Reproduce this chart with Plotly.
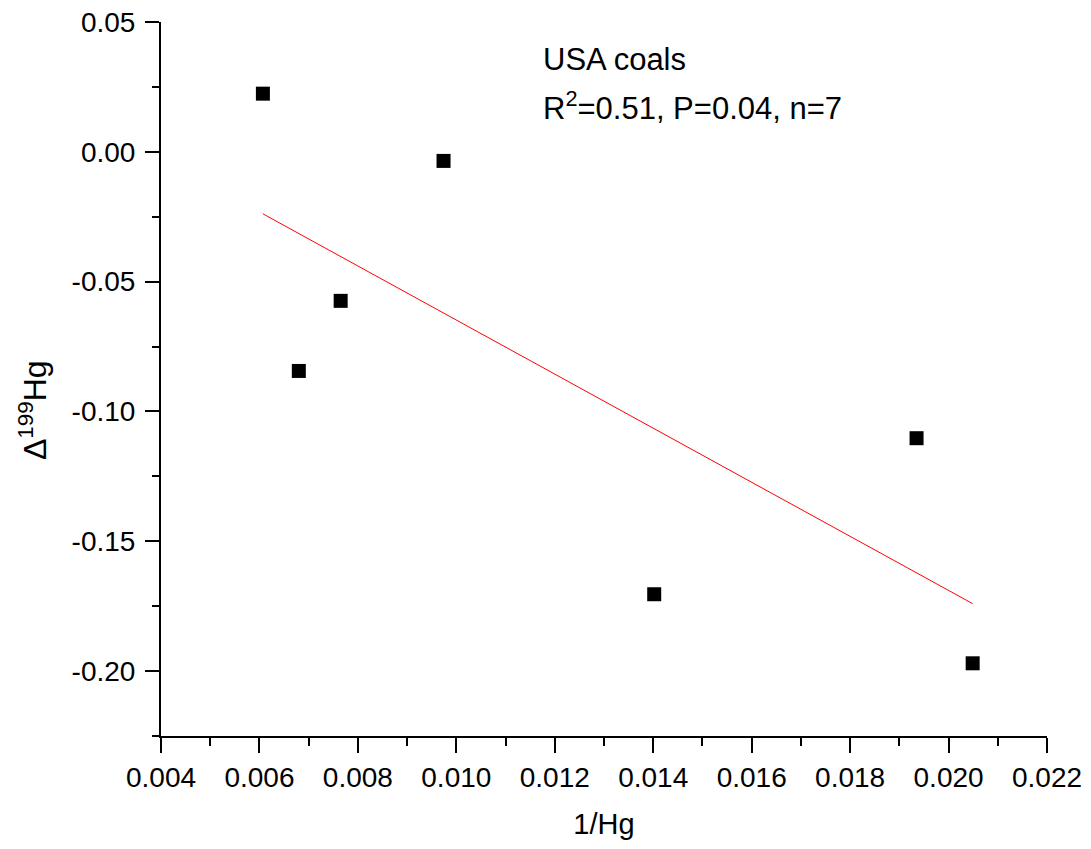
import numpy as np
import plotly.graph_objects as go

# Data
inv_hg = [0.00607, 0.00974, 0.00765, 0.00680, 0.01935, 0.01402, 0.02049]
d199hg = [0.0224, -0.0035, -0.0574, -0.0844, -0.1103, -0.1704, -0.1970]

x_tickvals = [0.004, 0.006, 0.008, 0.010, 0.012, 0.014, 0.016, 0.018, 0.020, 0.022]
x_ticktext = ["0.004", "0.006", "0.008", "0.010", "0.012", "0.014", "0.016", "0.018", "0.020", "0.022"]
y_tickvals = [0.05, 0.00, -0.05, -0.10, -0.15, -0.20]
y_ticktext = ["0.05", "0.00", "-0.05", "-0.10", "-0.15", "-0.20"]

label_line1 = "USA coals"
label_line2 = "R<sup>2</sup>=0.51, P=0.04, n=7"
y_title = "Δ<sup>199</sup>Hg"

# Linear fit
slope, intercept = np.polyfit(inv_hg, d199hg, 1)
fit_x = [min(inv_hg), max(inv_hg)]
fit_y = [slope * v + intercept for v in fit_x]

FONT = "Liberation Sans, Arial, sans-serif"

fig = go.Figure()
fig.add_trace(go.Scatter(
    x=fit_x, y=fit_y, mode="lines",
    line=dict(color="#ff0000", width=1),
    showlegend=False, hoverinfo="skip",
))
fig.add_trace(go.Scatter(
    x=inv_hg, y=d199hg, mode="markers",
    marker=dict(symbol="square", size=14, color="black", line=dict(width=0)),
    showlegend=False,
))

fig.update_layout(
    width=1091, height=849,
    margin=dict(l=153, r=52, t=14, b=121),
    paper_bgcolor="white", plot_bgcolor="white",
    font=dict(family=FONT, size=26, color="black"),
    showlegend=False,
    xaxis=dict(
        range=[0.004, 0.022],
        tickvals=x_tickvals, ticktext=x_ticktext,
        showgrid=False, zeroline=False, automargin=False,
        showline=True, linecolor="black", linewidth=2,
        ticks="outside", ticklen=15, tickwidth=2, tickcolor="black",
        minor=dict(ticks="outside", ticklen=8, tickwidth=2, tickcolor="black", dtick=0.001, showgrid=False),
        tickfont=dict(family=FONT, size=28, color="black"),
        ticklabelstandoff=0, ticklabeloverflow="allow",
        title=dict(text="1/Hg", font=dict(family=FONT, size=29, color="black"), standoff=22),
        mirror=False,
    ),
    yaxis=dict(
        range=[-0.225, 0.05],
        tickvals=y_tickvals, ticktext=y_ticktext,
        showgrid=False, zeroline=False, automargin=False,
        showline=True, linecolor="black", linewidth=2,
        ticks="outside", ticklen=14, tickwidth=2, tickcolor="black",
        minor=dict(ticks="outside", ticklen=7, tickwidth=2, tickcolor="black", dtick=0.025, showgrid=False),
        tickfont=dict(family=FONT, size=28, color="black"),
        ticklabelstandoff=4, ticklabeloverflow="allow",
        mirror=False,
    ),
    annotations=[
        dict(text=y_title, xref="paper", yref="paper", x=-128 / 886, y=1 - (410 - 22) / 714,
             xanchor="center", yanchor="middle", textangle=-90, showarrow=False,
             font=dict(family=FONT, size=32, color="black")),
        dict(text=label_line1, xref="paper", yref="paper", x=380 / 886, y=0.948,
             xanchor="left", yanchor="middle", showarrow=False,
             font=dict(family=FONT, size=31, color="black")),
        dict(text=label_line2, xref="paper", yref="paper", x=380 / 886, y=0.883,
             xanchor="left", yanchor="middle", showarrow=False,
             font=dict(family=FONT, size=31, color="black")),
    ],
)

fig.write_html("out.html")
